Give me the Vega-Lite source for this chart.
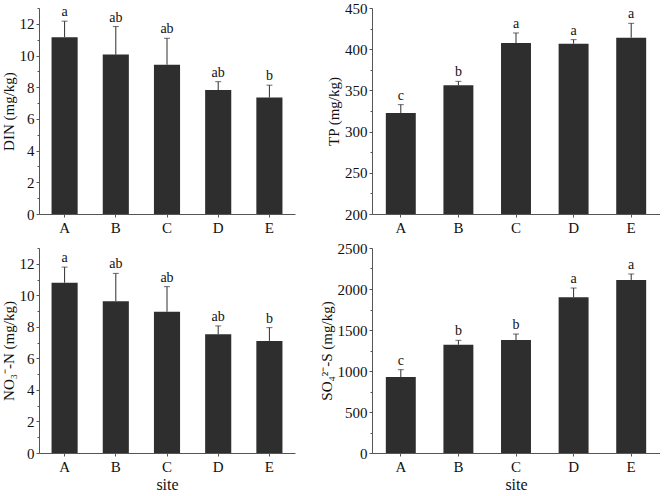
{
  "$schema": "https://vega.github.io/schema/vega-lite/v6.json",
  "padding": {"left": 1, "top": 1, "right": 0, "bottom": 0},
  "background": "white",
  "datasets": {
    "din": [
      {"site": "A", "mean": 11.16, "upper": 12.17, "letter": "a"},
      {"site": "B", "mean": 10.06, "upper": 11.83, "letter": "ab"},
      {"site": "C", "mean": 9.42, "upper": 11.09, "letter": "ab"},
      {"site": "D", "mean": 7.82, "upper": 8.35, "letter": "ab"},
      {"site": "E", "mean": 7.35, "upper": 8.13, "letter": "b"}
    ],
    "tp": [
      {"site": "A", "mean": 322.6, "upper": 332.7, "letter": "c"},
      {"site": "B", "mean": 356.1, "upper": 361.0, "letter": "b"},
      {"site": "C", "mean": 407.5, "upper": 419.7, "letter": "a"},
      {"site": "D", "mean": 406.7, "upper": 411.6, "letter": "a"},
      {"site": "E", "mean": 414.0, "upper": 431.4, "letter": "a"}
    ],
    "no3": [
      {"site": "A", "mean": 10.80, "upper": 11.79, "letter": "a"},
      {"site": "B", "mean": 9.63, "upper": 11.39, "letter": "ab"},
      {"site": "C", "mean": 8.96, "upper": 10.55, "letter": "ab"},
      {"site": "D", "mean": 7.53, "upper": 8.06, "letter": "ab"},
      {"site": "E", "mean": 7.11, "upper": 7.95, "letter": "b"}
    ],
    "so4": [
      {"site": "A", "mean": 927, "upper": 1016, "letter": "c"},
      {"site": "B", "mean": 1321, "upper": 1374, "letter": "b"},
      {"site": "C", "mean": 1378, "upper": 1451, "letter": "b"},
      {"site": "D", "mean": 1898, "upper": 2012, "letter": "a"},
      {"site": "E", "mean": 2110, "upper": 2183, "letter": "a"}
    ]
  },
  "columns": 2,
  "spacing": {"row": 6, "column": 24},
  "concat": [
    {
      "width": 256, "height": 206,
      "data": {"name": "din"},
      "encoding": {
        "x": {"field": "site", "type": "nominal", "title": null, "scale": {"paddingInner": 0.49, "paddingOuter": 0.245}},
        "y": {"field": "mean", "type": "quantitative", "title": "DIN (mg/kg)", "scale": {"domain": [0, 13], "nice": false},
              "axis": {"values": [0,1,2,3,4,5,6,7,8,9,10,11,12,13], "labelOverlap": false, "labelExpr": "datum.value % 2 == 0 ? datum.label : ''", "tickSize": {"condition": {"test": "datum.value % 2 != 0", "value": 2}, "value": 3}}}
      },
      "layer": [
        {"mark": {"type": "bar", "color": "#2e2e2e"}},
        {"mark": {"type": "rule", "color": "#2e2e2e"}, "encoding": {"y2": {"field": "upper"}}},
        {"mark": {"type": "tick", "color": "#2e2e2e", "size": 6, "thickness": 1},
         "encoding": {"y": {"field": "upper", "type": "quantitative", "title": "DIN (mg/kg)", "axis": {"values": [0,1,2,3,4,5,6,7,8,9,10,11,12,13], "labelOverlap": false, "labelExpr": "datum.value % 2 == 0 ? datum.label : ''", "tickSize": {"condition": {"test": "datum.value % 2 != 0", "value": 2}, "value": 3}}}}},
        {"mark": {"type": "text", "dy": -5, "baseline": "alphabetic", "font": "Liberation Serif", "fontSize": 14, "color": "#111"},
         "encoding": {"y": {"field": "upper", "type": "quantitative", "title": "DIN (mg/kg)", "axis": {"values": [0,1,2,3,4,5,6,7,8,9,10,11,12,13], "labelOverlap": false, "labelExpr": "datum.value % 2 == 0 ? datum.label : ''", "tickSize": {"condition": {"test": "datum.value % 2 != 0", "value": 2}, "value": 3}}}, "text": {"field": "letter"}}}
      ]
    },
    {
      "width": 288, "height": 206,
      "data": {"name": "tp"},
      "encoding": {
        "x": {"field": "site", "type": "nominal", "title": null, "scale": {"paddingInner": 0.48, "paddingOuter": 0.24}},
        "y": {"field": "mean", "type": "quantitative", "title": "TP (mg/kg)", "scale": {"domain": [200, 450], "nice": false, "zero": false},
              "axis": {"values": [200,225,250,275,300,325,350,375,400,425,450], "labelOverlap": false, "labelExpr": "datum.value % 50 == 0 ? datum.label : ''", "tickSize": {"condition": {"test": "datum.value % 50 != 0", "value": 2}, "value": 3}}}
      },
      "layer": [
        {"mark": {"type": "bar", "color": "#2e2e2e", "clip": true}},
        {"mark": {"type": "rule", "color": "#2e2e2e"}, "encoding": {"y2": {"field": "upper"}}},
        {"mark": {"type": "tick", "color": "#2e2e2e", "size": 6, "thickness": 1},
         "encoding": {"y": {"field": "upper", "type": "quantitative", "title": "TP (mg/kg)", "axis": {"values": [200,225,250,275,300,325,350,375,400,425,450], "labelOverlap": false, "labelExpr": "datum.value % 50 == 0 ? datum.label : ''", "tickSize": {"condition": {"test": "datum.value % 50 != 0", "value": 2}, "value": 3}}}}},
        {"mark": {"type": "text", "dy": -5, "baseline": "alphabetic", "font": "Liberation Serif", "fontSize": 14, "color": "#111"},
         "encoding": {"y": {"field": "upper", "type": "quantitative", "title": "TP (mg/kg)", "axis": {"values": [200,225,250,275,300,325,350,375,400,425,450], "labelOverlap": false, "labelExpr": "datum.value % 50 == 0 ? datum.label : ''", "tickSize": {"condition": {"test": "datum.value % 50 != 0", "value": 2}, "value": 3}}}, "text": {"field": "letter"}}}
      ]
    },
    {
      "width": 256, "height": 205,
      "data": {"name": "no3"},
      "encoding": {
        "x": {"field": "site", "type": "nominal", "title": "site", "scale": {"paddingInner": 0.49, "paddingOuter": 0.245}},
        "y": {"field": "mean", "type": "quantitative", "title": "NO₃⁻-N (mg/kg)", "scale": {"domain": [0, 13], "nice": false},
              "axis": {"values": [0,1,2,3,4,5,6,7,8,9,10,11,12,13], "labelOverlap": false, "labelExpr": "datum.value % 2 == 0 ? datum.label : ''", "tickSize": {"condition": {"test": "datum.value % 2 != 0", "value": 2}, "value": 3}}}
      },
      "layer": [
        {"mark": {"type": "bar", "color": "#2e2e2e"}},
        {"mark": {"type": "rule", "color": "#2e2e2e"}, "encoding": {"y2": {"field": "upper"}}},
        {"mark": {"type": "tick", "color": "#2e2e2e", "size": 6, "thickness": 1},
         "encoding": {"y": {"field": "upper", "type": "quantitative", "title": "NO₃⁻-N (mg/kg)", "axis": {"values": [0,1,2,3,4,5,6,7,8,9,10,11,12,13], "labelOverlap": false, "labelExpr": "datum.value % 2 == 0 ? datum.label : ''", "tickSize": {"condition": {"test": "datum.value % 2 != 0", "value": 2}, "value": 3}}}}},
        {"mark": {"type": "text", "dy": -5, "baseline": "alphabetic", "font": "Liberation Serif", "fontSize": 14, "color": "#111"},
         "encoding": {"y": {"field": "upper", "type": "quantitative", "title": "NO₃⁻-N (mg/kg)", "axis": {"values": [0,1,2,3,4,5,6,7,8,9,10,11,12,13], "labelOverlap": false, "labelExpr": "datum.value % 2 == 0 ? datum.label : ''", "tickSize": {"condition": {"test": "datum.value % 2 != 0", "value": 2}, "value": 3}}}, "text": {"field": "letter"}}}
      ]
    },
    {
      "width": 288, "height": 205,
      "data": {"name": "so4"},
      "encoding": {
        "x": {"field": "site", "type": "nominal", "title": "site", "scale": {"paddingInner": 0.48, "paddingOuter": 0.24}},
        "y": {"field": "mean", "type": "quantitative", "title": "SO₄²⁻-S (mg/kg)", "scale": {"domain": [0, 2500], "nice": false},
              "axis": {"values": [0,250,500,750,1000,1250,1500,1750,2000,2250,2500], "format": "d", "labelOverlap": false, "labelExpr": "datum.value % 500 == 0 ? datum.label : ''", "tickSize": {"condition": {"test": "datum.value % 500 != 0", "value": 2}, "value": 3}}}
      },
      "layer": [
        {"mark": {"type": "bar", "color": "#2e2e2e"}},
        {"mark": {"type": "rule", "color": "#2e2e2e"}, "encoding": {"y2": {"field": "upper"}}},
        {"mark": {"type": "tick", "color": "#2e2e2e", "size": 6, "thickness": 1},
         "encoding": {"y": {"field": "upper", "type": "quantitative", "title": "SO₄²⁻-S (mg/kg)", "axis": {"values": [0,250,500,750,1000,1250,1500,1750,2000,2250,2500], "format": "d", "labelOverlap": false, "labelExpr": "datum.value % 500 == 0 ? datum.label : ''", "tickSize": {"condition": {"test": "datum.value % 500 != 0", "value": 2}, "value": 3}}}}},
        {"mark": {"type": "text", "dy": -5, "baseline": "alphabetic", "font": "Liberation Serif", "fontSize": 14, "color": "#111"},
         "encoding": {"y": {"field": "upper", "type": "quantitative", "title": "SO₄²⁻-S (mg/kg)", "axis": {"values": [0,250,500,750,1000,1250,1500,1750,2000,2250,2500], "format": "d", "labelOverlap": false, "labelExpr": "datum.value % 500 == 0 ? datum.label : ''", "tickSize": {"condition": {"test": "datum.value % 500 != 0", "value": 2}, "value": 3}}}, "text": {"field": "letter"}}}
      ]
    }
  ],
  "config": {
    "view": {"stroke": null},
    "axis": {
      "grid": false,
      "domainColor": "#555",
      "tickColor": "#555",
      "tickSize": 3,
      "labelFont": "Liberation Serif",
      "titleFont": "Liberation Serif",
      "labelFontSize": 15,
      "titleFontSize": 15,
      "titleFontWeight": "normal",
      "labelColor": "#111",
      "titleColor": "#111",
      "labelPadding": 2,
      "titlePadding": 3,
      "labelOverlap": false
    },
    "axisX": {"labelAngle": 0, "labelPadding": 3, "titleFontSize": 16, "titlePadding": 2},
    "axisY": {"labelFlush": false}
  }
}
